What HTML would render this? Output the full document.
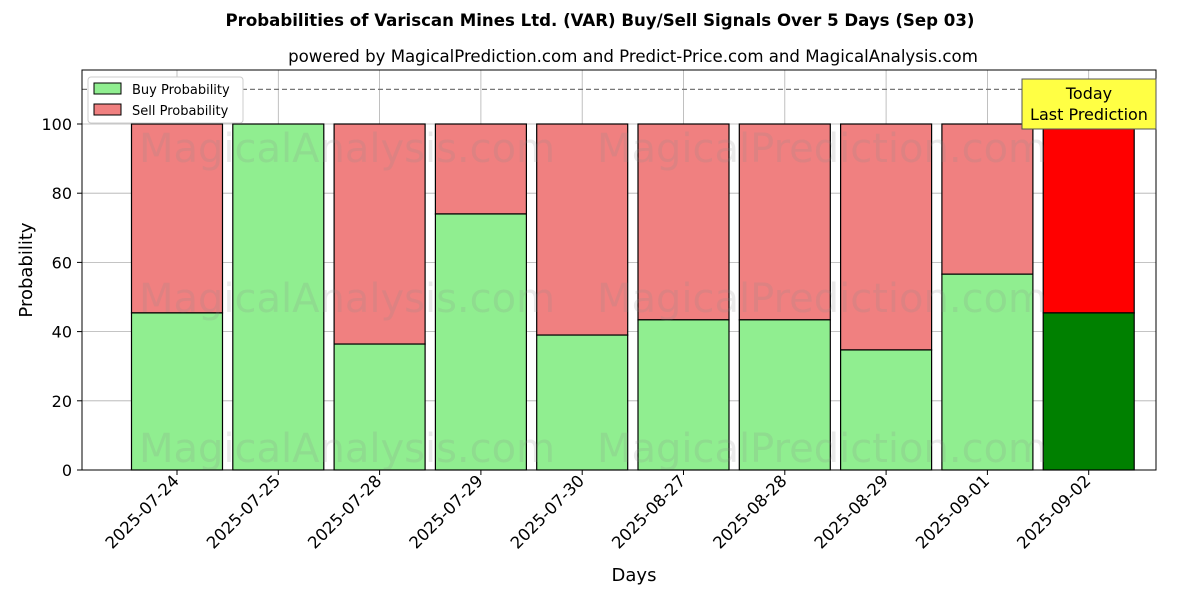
<!DOCTYPE html>
<html><head><meta charset="utf-8"><style>
body{margin:0;background:#fff;font-family:"Liberation Sans","DejaVu Sans",sans-serif}
</style></head><body>
<svg width="1200" height="600" xmlns="http://www.w3.org/2000/svg" font-family="DejaVu Sans, Liberation Sans, sans-serif">
<text x="600" y="26" text-anchor="middle" font-size="16.6" font-weight="bold">Probabilities of Variscan Mines Ltd. (VAR) Buy/Sell Signals Over 5 Days (Sep 03)</text>
<text x="633" y="62" text-anchor="middle" font-size="16.6">powered by MagicalPrediction.com and Predict-Price.com and MagicalAnalysis.com</text>
<g id="grid"></g>
<g id="bars"></g>
<g fill="#888" fill-opacity="0.18" font-size="40">
<text x="347" y="162" text-anchor="middle">MagicalAnalysis.com</text>
<text x="822" y="162" text-anchor="middle">MagicalPrediction.com</text>
<text x="347" y="312" text-anchor="middle">MagicalAnalysis.com</text>
<text x="822" y="312" text-anchor="middle">MagicalPrediction.com</text>
<text x="347" y="462" text-anchor="middle">MagicalAnalysis.com</text>
<text x="822" y="462" text-anchor="middle">MagicalPrediction.com</text>
</g>
<line x1="82" x2="1156" y1="89.4" y2="89.4" stroke="#777" stroke-dasharray="5,3" stroke-width="1.2"/>
<rect x="82" y="70" width="1074" height="400" fill="none" stroke="#000" stroke-width="1"/>
<g id="axes"></g>
<text x="634" y="581" text-anchor="middle" font-size="18">Days</text>
<text transform="translate(32,270) rotate(-90)" text-anchor="middle" font-size="18">Probability</text>
<g>
<rect x="88" y="77" width="155" height="46" fill="#fff" stroke="#ccc" rx="3"/>
<rect x="94" y="83" width="27" height="11" fill="#90ee90" stroke="#000"/>
<text x="132" y="94" font-size="13">Buy Probability</text>
<rect x="94" y="104" width="27" height="11" fill="#f08080" stroke="#000"/>
<text x="132" y="115" font-size="13">Sell Probability</text>
</g>
<g>
<rect x="1022" y="79" width="134" height="50" fill="#ffff44" stroke="#555"/>
<text x="1089" y="99" text-anchor="middle" font-size="16">Today</text>
<text x="1089" y="120" text-anchor="middle" font-size="16">Last Prediction</text>
</g>
</svg>
<script>
const categories=["2025-07-24","2025-07-25","2025-07-28","2025-07-29","2025-07-30","2025-08-27","2025-08-28","2025-08-29","2025-09-01","2025-09-02"];
const buyValues=[45.4,100,36.4,74,39,43.4,43.4,34.7,56.6,45.4];
const yTicks=[0,20,40,60,80,100];
const NS="http://www.w3.org/2000/svg";
const y=v=>470-v*3.46;
const x=i=>177+i*101.3;
const bw=91;
function mk(t,a,p){const e=document.createElementNS(NS,t);for(const k in a)e.setAttribute(k,a[k]);p.appendChild(e);return e;}
const grid=document.getElementById('grid'),bars=document.getElementById('bars'),axes=document.getElementById('axes');
yTicks.forEach(v=>{
 const l=mk('line',{x1:82,x2:1156,y1:y(v),y2:y(v),stroke:'#b0b0b0','stroke-width':0.8},grid);
 
 
 mk('line',{x1:77,x2:82,y1:y(v),y2:y(v),stroke:'#000'},axes);
 const t=mk('text',{x:72,y:y(v)+6,'text-anchor':'end','font-size':16},axes);t.textContent=v;
 
 
});
categories.forEach((c,i)=>{
 const l=mk('line',{x1:x(i),x2:x(i),y1:70,y2:470,stroke:'#b0b0b0','stroke-width':0.8},grid);
 
 
 const last=i===categories.length-1;
 const b=buyValues[i];
 const s=mk('rect',{x:x(i)-bw/2,y:y(100),width:bw,height:y(b)-y(100),fill:last?'#ff0000':'#f08080',stroke:'#000','stroke-width':1.2},bars);
 
 
 const r=mk('rect',{x:x(i)-bw/2,y:y(b),width:bw,height:y(0)-y(b),fill:last?'#008000':'#90ee90',stroke:'#000','stroke-width':1.2},bars);
 
 
 mk('line',{x1:x(i),x2:x(i),y1:470,y2:475,stroke:'#000'},axes);
 const tx=x(i)+3, ty=482;
 const t=mk('text',{x:tx,y:ty,'text-anchor':'end','font-size':16.5,transform:`rotate(-45 ${tx} ${ty})`},axes);t.textContent=c;
 
 
});
</script>
</body></html>
